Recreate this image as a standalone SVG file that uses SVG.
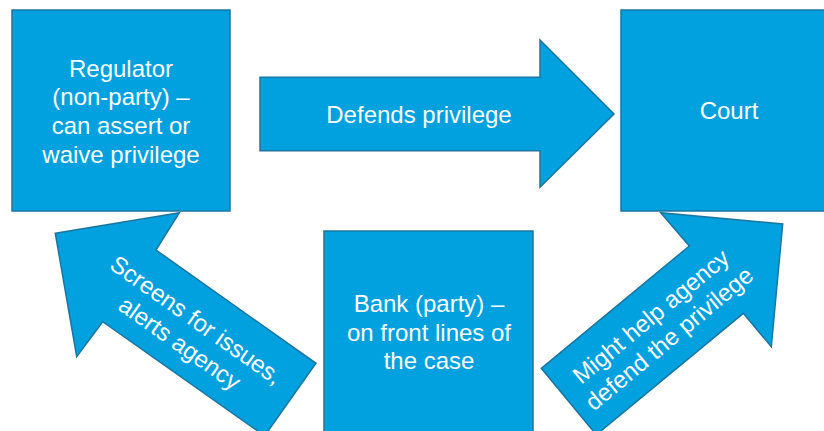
<svg xmlns="http://www.w3.org/2000/svg" width="824" height="431" viewBox="0 0 824 431">
  <style>
    .shape { fill: #00a1de; stroke: #1a76a0; stroke-width: 1.5; stroke-linejoin: miter; }
    .label { fill: #ffffff; font-family: "Liberation Sans", Arial, sans-serif; font-size: 24px; text-anchor: middle; }
  </style>
  <rect width="824" height="431" fill="#ffffff"/>

  <!-- Block arrows -->
  <g id="connectors">
    <g id="arrow-defends">
      <polygon class="shape" points="260,77.3 540,77.3 540,40 614,114 540,187.3 540,150.7 260,150.7"/>
      <text class="label" x="419" y="122.6">Defends privilege</text>
    </g>
    <g id="arrow-screens">
      <polygon class="shape" points="55.3,233.3 179.3,212.7 156,250 316,363.3 264.6,435.9 102.7,321.7 76.7,356.7"/>
      <g transform="translate(188,331.5) rotate(35.3)">
        <text class="label" x="0" y="-6">Screens for issues,</text>
        <text class="label" x="0" y="22.6">alerts agency</text>
      </g>
    </g>
    <g id="arrow-helps">
      <polygon class="shape" points="782.7,224 771.3,346.7 743.3,313.3 596.3,434.8 541.3,368.3 689.3,246 660.7,212.7"/>
      <g transform="translate(660,327.5) rotate(-39.7)">
        <text class="label" x="0" y="-6">Might help agency</text>
        <text class="label" x="0" y="22.6">defend the privilege</text>
      </g>
    </g>
  </g>

  <!-- Parties -->
  <g id="regulator">
    <rect class="shape" x="12" y="10" width="218" height="201"/>
    <text class="label" x="121" y="76.5">Regulator</text>
    <text class="label" x="121" y="105.3">(non-party) –</text>
    <text class="label" x="121" y="134.1">can assert or</text>
    <text class="label" x="121" y="162.9">waive privilege</text>
  </g>
  <g id="court">
    <rect class="shape" x="621" y="10" width="218" height="201"/>
    <text class="label" x="729" y="119">Court</text>
  </g>
  <g id="bank">
    <rect class="shape" x="324" y="231" width="209" height="203"/>
    <text class="label" x="429" y="311.7">Bank (party) –</text>
    <text class="label" x="429" y="340.5">on front lines of</text>
    <text class="label" x="429" y="369.3">the case</text>
  </g>
</svg>
